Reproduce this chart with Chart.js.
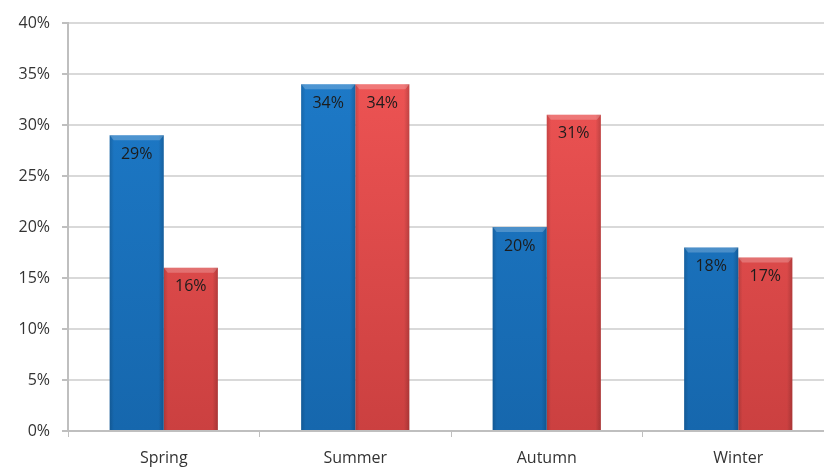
<!DOCTYPE html>
<html>
<head>
<meta charset="utf-8">
<script src="https://cdn.jsdelivr.net/npm/chart.js@4.4.1/dist/chart.umd.min.js"></script>
<style>
  html, body { margin: 0; padding: 0; background: #fff; overflow: hidden; }
  #wrap { width: 834px; height: 470px; position: relative; }
</style>
</head>
<body>
<div id="wrap"><canvas id="barChart"></canvas></div>
<script>
var seasons = ["Spring", "Summer", "Autumn", "Winter"];
var seriesA = [29, 34, 20, 18];
var seriesB = [16, 34, 31, 17];
var yTicks = [0, 5, 10, 15, 20, 25, 30, 35, 40];

var FONT = "'Open Sans', 'Noto Sans', sans-serif";

// vertical fill for each series, darker toward the baseline
function fillFor(top, bottom) {
  return function(context) {
    var chart = context.chart;
    var area = chart.chartArea;
    if (!area) return top;
    var g = chart.ctx.createLinearGradient(0, area.top, 0, area.bottom);
    g.addColorStop(0, top);
    g.addColorStop(1, bottom);
    return g;
  };
}

// edge shading, top bevel and value labels
var bevelPlugin = {
  id: 'bevel',
  afterDatasetsDraw: function(chart) {
    var ctx = chart.ctx;
    chart.data.datasets.forEach(function(ds, i) {
      var meta = chart.getDatasetMeta(i);
      meta.data.forEach(function(bar, j) {
        var l = bar.x - bar.width / 2, r = bar.x + bar.width / 2;
        var t = bar.y, b = bar.base;
        ctx.save();
        var h = ctx.createLinearGradient(l, 0, r, 0);
        h.addColorStop(0, 'rgba(0,0,0,0.15)');
        h.addColorStop(0.08, 'rgba(0,0,0,0.0)');
        h.addColorStop(0.9, 'rgba(0,0,0,0.0)');
        h.addColorStop(1, 'rgba(0,0,0,0.18)');
        ctx.fillStyle = h;
        ctx.fillRect(l, t, r - l, b - t);
        // top bevel
        ctx.beginPath();
        ctx.moveTo(l, t);
        ctx.lineTo(r, t);
        ctx.lineTo(r - 4, t + 5);
        ctx.lineTo(l + 4, t + 5);
        ctx.closePath();
        ctx.fillStyle = 'rgba(255,255,255,0.22)';
        ctx.fill();
        ctx.fillStyle = '#1c1c1c';
        ctx.font = '16px ' + FONT;
        ctx.textAlign = 'center';
        ctx.textBaseline = 'middle';
        ctx.fillText(ds.data[j] + '%', bar.x, t + 19);
        ctx.restore();
      });
    });
  }
};

var ctx = document.getElementById('barChart').getContext('2d');
var chart = new Chart(ctx, {
  type: 'bar',
  data: {
    labels: seasons,
    datasets: [{
      data: seriesA,
      backgroundColor: fillFor('#1e7ccb', '#1667ad'),
      categoryPercentage: 0.565,
      barPercentage: 1
    }, {
      data: seriesB,
      backgroundColor: fillFor('#f25656', '#cb4040'),
      categoryPercentage: 0.565,
      barPercentage: 1
    }]
  },
  options: {
    responsive: true,
    maintainAspectRatio: false,
    animation: false,
    layout: { padding: { top: 23, left: 0, right: 0, bottom: 0 } },
    plugins: {
      legend: { display: false },
      tooltip: { enabled: false }
    },
    scales: {
      x: {
        grid: { drawOnChartArea: false, drawTicks: true, tickLength: 6, color: '#bfbfbf', lineWidth: 1 },
        border: { color: '#bfbfbf', width: 2 },
        ticks: { color: '#333', font: { family: FONT, size: 16 }, padding: 12 },
        afterFit: function(scale) { scale.height = 39; }
      },
      y: {
        min: 0,
        max: 40,
        afterBuildTicks: function(scale) {
          scale.ticks = yTicks.map(function(v) { return { value: v }; });
        },
        grid: { color: '#d9d9d9', lineWidth: 2, tickLength: 6, tickColor: '#bfbfbf' },
        border: { color: '#bfbfbf', width: 2 },
        ticks: {
          color: '#333',
          font: { family: FONT, size: 16 },
          padding: 12,
          callback: function(v) { return v + '%'; }
        },
        afterFit: function(scale) { scale.width = 68; }
      }
    }
  },
  plugins: [bevelPlugin]
});
</script>
</body>
</html>
